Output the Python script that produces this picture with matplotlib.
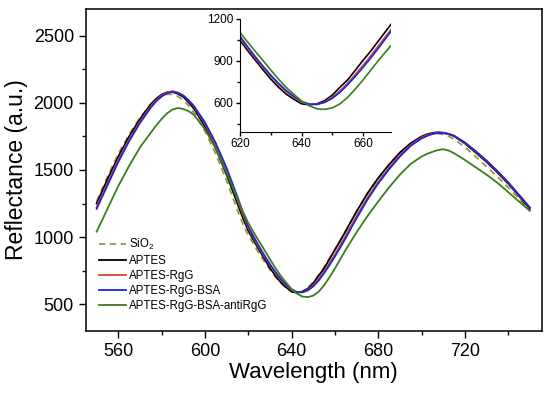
import matplotlib
matplotlib.use("Agg")
import matplotlib.pyplot as plt

plt.rcParams['font.family'] = ['Liberation Sans', 'DejaVu Sans']
plt.rcParams['mathtext.fontset'] = 'custom'
plt.rcParams['mathtext.rm'] = 'Liberation Sans'

wavelength = [550, 555, 560, 565, 570, 575, 577.5, 580, 582.5, 585, 587.5, 590, 592.5, 595,
              600, 605, 610, 615, 617.5,
              620, 622.5, 625, 627.5, 630, 632.5, 635, 637.5, 640, 642.5, 645, 647.5,
              650, 652.5, 655, 657.5, 660, 662.5, 665, 667.5, 670,
              675, 680, 685, 690, 695, 700, 702.5, 705, 707.5, 710, 712.5, 715,
              720, 725, 730, 735, 740, 745, 750]

sio2 = [1265, 1450, 1620, 1765, 1890, 1990, 2025, 2050, 2064, 2065, 2048, 2020, 1978, 1925,
        1790, 1620, 1420, 1200, 1098,
        1012, 945, 878, 815, 757, 705, 658, 620, 595, 585, 595, 622,
        665, 718, 778, 842, 908, 976, 1045, 1118, 1190,
        1322, 1438, 1540, 1625, 1695, 1745, 1760, 1770, 1771, 1765, 1750, 1730,
        1670, 1600, 1525, 1450, 1370, 1285, 1200]

aptes = [1250, 1430, 1600, 1750, 1880, 1990, 2032, 2062, 2080, 2082, 2068, 2045, 2004, 1955,
         1825, 1660, 1465, 1250, 1142,
         1048, 974, 905, 836, 770, 712, 662, 625, 592, 585, 592, 615,
         655, 712, 765, 835, 905, 972, 1045, 1118, 1190,
         1325, 1440, 1540, 1630, 1700, 1750, 1766, 1776, 1781, 1778, 1768, 1752,
         1698, 1630, 1560, 1482, 1398, 1305, 1210]

aptes_rgg = [1222, 1400, 1575, 1727, 1860, 1975, 2020, 2055, 2078, 2088, 2078, 2055, 2018, 1970,
             1845, 1688, 1500, 1280, 1168,
             1068, 992, 920, 852, 790, 732, 680, 640, 605, 588, 589, 606,
             640, 686, 742, 805, 870, 938, 1010, 1082, 1155,
             1292, 1410, 1517, 1610, 1688, 1742, 1760, 1772, 1779, 1778, 1770, 1756,
             1703, 1638, 1567, 1490, 1405, 1312, 1218]

aptes_rgg_bsa = [1210, 1385, 1560, 1715, 1850, 1965, 2012, 2048, 2072, 2082, 2074, 2055, 2020, 1975,
                 1855, 1700, 1515, 1300, 1185,
                 1078, 1002, 930, 862, 798, 740, 688, 645, 610, 590, 588, 602,
                 632, 675, 730, 790, 855, 922, 993, 1067, 1140,
                 1278, 1400, 1505, 1600, 1680, 1735, 1754, 1768, 1775, 1775, 1768, 1755,
                 1705, 1640, 1570, 1492, 1408, 1315, 1220]

aptes_rgg_bsa_anti = [1040, 1210, 1380, 1530, 1668, 1778, 1832, 1880, 1922, 1950, 1962, 1955, 1938, 1910,
                      1805, 1660, 1480, 1285, 1190,
                      1105, 1035, 968, 902, 835, 770, 710, 660, 612, 578, 556, 552,
                      563, 592, 640, 700, 765, 835, 905, 970, 1035,
                      1155, 1265, 1370, 1465, 1545, 1600, 1620, 1635, 1648, 1655, 1645, 1625,
                      1575, 1520, 1465, 1405, 1335, 1265, 1195]

labels = ['SiO$_2$', 'APTES', 'APTES-RgG', 'APTES-RgG-BSA', 'APTES-RgG-BSA-antiRgG']
colors = ['#9a9a3c', '#000000', '#d24a2a', '#2222dd', '#3a7d1e']

main_xticks = [560, 600, 640, 680, 720]
main_yticks = [500, 1000, 1500, 2000, 2500]
inset_xticks = [620, 640, 660]
inset_yticks = [600, 900, 1200]

fig = plt.figure(figsize=(5.5, 3.93), dpi=100)
ax = fig.add_axes([0.156, 0.158, 0.829, 0.819])

series = [aptes, aptes_rgg, aptes_rgg_bsa, aptes_rgg_bsa_anti]
for s, c, l in zip(series, colors[1:], labels[1:]):
    ax.plot(wavelength, s, color=c, lw=1.3, label=l)
ax.plot(wavelength, sio2, color=colors[0], lw=1.3, ls=(0, (3.5, 2.5)), label=labels[0], zorder=1.5)

ax.set_xlim(545, 755.5)
ax.set_ylim(300, 2700)
ax.set_xticks(main_xticks)
ax.set_yticks(main_yticks)
ax.set_xticks([580, 620, 660, 700, 740], minor=True)
ax.set_yticks([750, 1250, 1750, 2250], minor=True)
ax.tick_params(which='major', direction='out', length=5, width=1, labelsize=13, top=False, right=False)
ax.tick_params(which='minor', direction='out', length=3, width=1, top=False, right=False)
for sp in ax.spines.values():
    sp.set_linewidth(1.1)
ax.set_xlabel('Wavelength (nm)', fontsize=16, labelpad=2)
ax.set_ylabel('Reflectance (a.u.)', fontsize=16.5, labelpad=4)

handles, labs = ax.get_legend_handles_labels()
order = [4, 0, 1, 2, 3]
ax.legend([handles[i] for i in order], [labs[i] for i in order], loc='lower left',
          bbox_to_anchor=(0.03, 0.06), frameon=False, fontsize=8.3, handlelength=2.3,
          handletextpad=0.3, labelspacing=0.25, borderaxespad=0, borderpad=0)

ins = fig.add_axes([0.436, 0.664, 0.275, 0.288])
for s, c in zip(series, colors[1:]):
    ins.plot(wavelength, s, color=c, lw=1.2)
ins.set_xlim(620, 669)
ins.set_ylim(390, 1200)
ins.set_xticks(inset_xticks)
ins.set_yticks(inset_yticks)
ins.set_xticks([630, 650], minor=True)
ins.set_yticks([450, 750, 1050], minor=True)
ins.spines['top'].set_visible(False)
ins.spines['right'].set_visible(False)
ins.tick_params(which='major', direction='out', length=3, width=1, labelsize=8.5, pad=1.5)
ins.tick_params(which='minor', direction='out', length=2, width=1)
ins.patch.set_alpha(0)

fig.savefig('out.png', dpi=100)
